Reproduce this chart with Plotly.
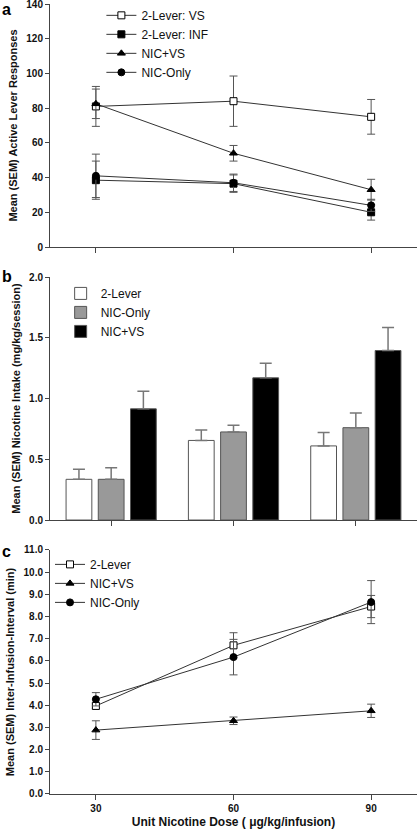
import plotly.graph_objects as go

# ---------------- data ----------------
doses = [30, 60, 90]
dose_labels = ["30", "60", "90"]

# Panel a: active lever responses
a_vs = [81, 84, 75]
a_vs_err = [11.5, 14.5, 10]
a_inf = [38.5, 36.5, 20]
a_inf_err = [11, 5, 4.5]
a_nicvs = [82.5, 54, 33]
a_nicvs_err = [8.5, 4.5, 6]
a_niconly = [41, 37, 24]
a_niconly_err = [12.5, 5, 3.5]

# Panel b: nicotine intake
b_2lever = [0.335, 0.655, 0.61]
b_2lever_err = [0.083, 0.085, 0.11]
b_niconly = [0.335, 0.725, 0.76]
b_niconly_err = [0.095, 0.055, 0.12]
b_nicvs = [0.915, 1.17, 1.395]
b_nicvs_err = [0.145, 0.12, 0.19]

# Panel c: inter-infusion interval
c_2lever = [3.97, 6.7, 8.45]
c_2lever_err = [0.13, 0.57, 0.5]
c_nicvs = [2.88, 3.3, 3.75]
c_nicvs_err = [0.42, 0.17, 0.3]
c_niconly = [4.27, 6.17, 8.65]
c_niconly_err = [0.3, 0.8, 0.97]

# ---------------- style ----------------
FONT = "Liberation Sans, Arial, sans-serif"
AXC = "#444444"
LINEC = "#333333"
ERRC = "#555555"

fig = go.Figure()


def line_trace(x, y, err, name, symbol, fill, xa, ya, legend):
    return go.Scatter(
        x=x, y=y, name=name, mode="lines+markers",
        xaxis=xa, yaxis=ya, legend=legend,
        line=dict(color=LINEC, width=1),
        marker=dict(symbol=symbol, size=7, color=fill,
                    line=dict(color="#000000", width=1)),
        error_y=dict(type="data", array=err, visible=True,
                     color=ERRC, thickness=1, width=4),
    )


# Panel a
fig.add_trace(line_trace(doses, a_vs, a_vs_err, "2-Lever: VS", "square", "white", "x", "y", "legend"))
fig.add_trace(line_trace(doses, a_inf, a_inf_err, "2-Lever: INF", "square", "black", "x", "y", "legend"))
fig.add_trace(line_trace(doses, a_nicvs, a_nicvs_err, "NIC+VS", "triangle-up", "black", "x", "y", "legend"))
fig.add_trace(line_trace(doses, a_niconly, a_niconly_err, "NIC-Only", "circle", "black", "x", "y", "legend"))


# Panel b
def bar_trace(y, err, name, fill):
    return go.Bar(
        x=dose_labels, y=y, name=name, xaxis="x2", yaxis="y2", legend="legend2",
        marker=dict(color=fill, line=dict(color="#555555", width=1)),
        error_y=dict(type="data", array=err, arrayminus=[0] * len(err),
                     symmetric=False, visible=True, color="#777777",
                     thickness=1.5, width=6),
    )


fig.add_trace(bar_trace(b_2lever, b_2lever_err, "2-Lever", "white"))
fig.add_trace(bar_trace(b_niconly, b_niconly_err, "NIC-Only", "#999999"))
fig.add_trace(bar_trace(b_nicvs, b_nicvs_err, "NIC+VS", "#000000"))

# Panel c
fig.add_trace(line_trace(doses, c_2lever, c_2lever_err, "2-Lever", "square", "white", "x3", "y3", "legend3"))
fig.add_trace(line_trace(doses, c_nicvs, c_nicvs_err, "NIC+VS", "triangle-up", "black", "x3", "y3", "legend3"))
fig.add_trace(line_trace(doses, c_niconly, c_niconly_err, "NIC-Only", "circle", "black", "x3", "y3", "legend3"))

# ---------------- layout ----------------
tickfont = dict(family=FONT, size=10, color="#111111", weight="bold")
titlefont = dict(family=FONT, size=11, color="#111111", weight="bold")


def yax(rng, dtick, fmt, title, domain, anchor):
    return dict(range=rng, dtick=dtick, tickformat=fmt, domain=domain, anchor=anchor,
                automargin=False, ticklabeloverflow="allow",
                showgrid=False, zeroline=False, showline=True, linecolor=AXC, linewidth=1,
                ticks="outside", ticklen=4, tickcolor=AXC, tickfont=tickfont,
                title=dict(text=title, font=titlefont, standoff=6))


def xax_num(domain, anchor, labels):
    return dict(range=[20, 100], tickvals=doses, ticktext=dose_labels, domain=domain, anchor=anchor,
                automargin=False,
                showgrid=False, zeroline=False, showline=True, linecolor=AXC, linewidth=1,
                ticks="outside", ticklen=5, tickcolor=AXC, showticklabels=labels,
                tickfont=tickfont)


leg_common = dict(font=dict(family=FONT, size=12, color="#111111"), bgcolor="rgba(0,0,0,0)",
                  xanchor="left", yanchor="top", itemwidth=30, tracegroupgap=0)

fig.update_layout(
    width=417, height=829,
    margin=dict(l=50, r=0, t=4, b=35),
    paper_bgcolor="white", plot_bgcolor="white",
    font=dict(family=FONT),
    barmode="group", bargap=0.21, bargroupgap=0.2,
    xaxis=xax_num([0, 1], "y", False),
    yaxis=yax([0, 140], 20, "d", "Mean (SEM) Active Lever Responses", [0.6924, 1.0], "x"),
    xaxis2=dict(type="category", range=[-0.5, 2.5], domain=[0, 1], anchor="y2", automargin=False,
                showgrid=False, zeroline=False, showline=True, linecolor=AXC, linewidth=1,
                ticks="outside", ticklen=5, tickcolor=AXC, showticklabels=False),
    yaxis2=yax([0, 2.0], 0.5, ".1f", "Mean (SEM) Nicotine Intake (mg/kg/session)", [0.3468, 0.6544], "x2"),
    xaxis3=xax_num([0, 1], "y3", True),
    yaxis3=yax([0, 11], 1, ".1f", "Mean (SEM) Inter-Infusion-Interval (min)", [0, 0.3089], "x3"),
    legend=dict(x=0.14, y=1.004, **leg_common),
    legend2=dict(x=0.029, y=0.652, **leg_common),
    legend3=dict(x=0.0, y=0.309, **leg_common),
    showlegend=True,
)
fig.layout.xaxis3.title = dict(text="Unit Nicotine Dose ( μg/kg/infusion)",
                               font=dict(family=FONT, size=12, color="#111111", weight="bold"),
                               standoff=4)

for letter, py in [("a", 9), ("b", 277), ("c", 552)]:
    fig.add_annotation(text="<b>%s</b>" % letter, xref="paper", yref="paper",
                       x=-50 / 367, y=(794 - py) / 790, xanchor="left", yanchor="middle",
                       showarrow=False, font=dict(family=FONT, size=16, color="#000000"))

fig.write_html("out.html", config={"displayModeBar": False},
               post_script="document.body.style.margin='0';document.body.style.overflow='hidden';")
